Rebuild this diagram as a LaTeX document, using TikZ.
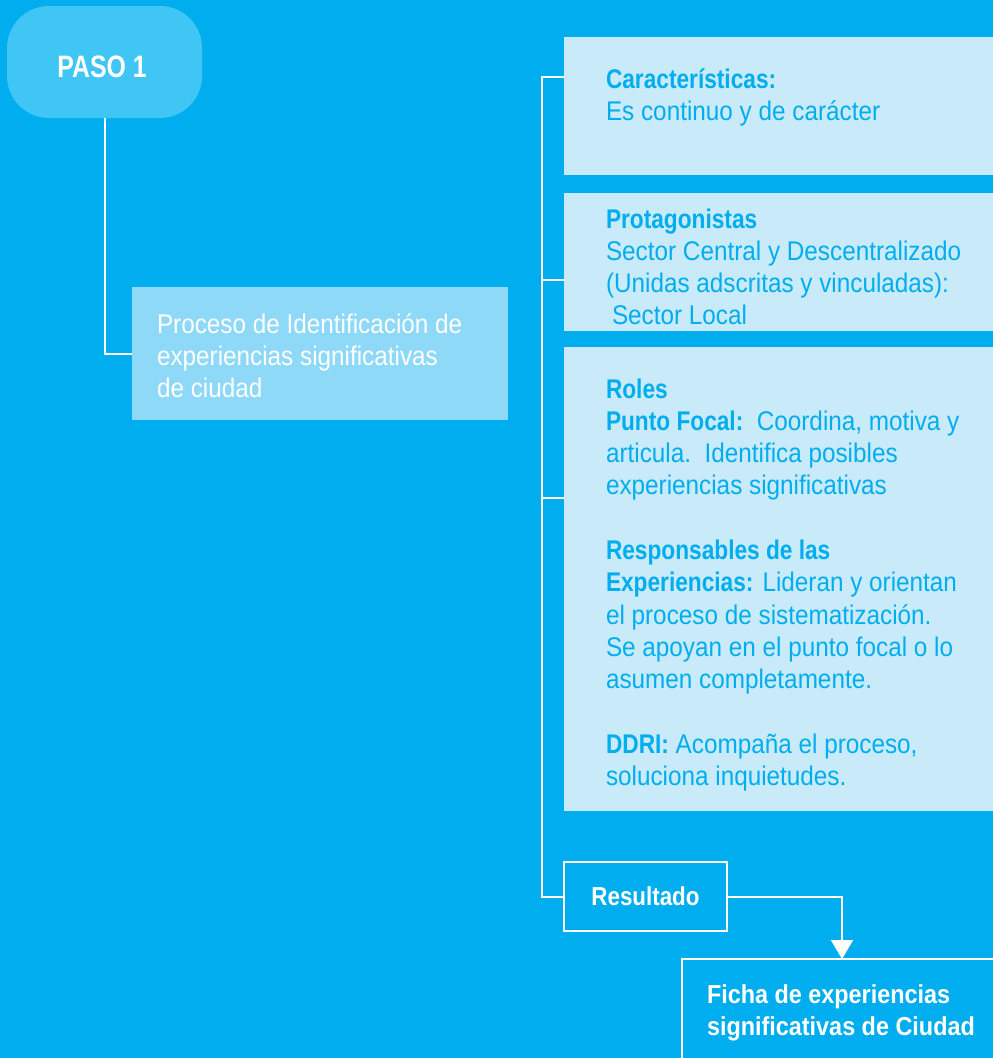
\documentclass[tikz,border=0pt]{standalone}
\usepackage{fontspec}
\setmainfont{Liberation Sans}[FakeStretch=0.9, BoldFeatures={FakeStretch=0.84}]
\newfontfamily\pasofont{Liberation Sans Bold}[FakeStretch=0.8]
\newfontfamily\resfont{Liberation Sans Bold}[FakeStretch=0.86]
\newfontfamily\fichafont{Liberation Sans Bold}[FakeStretch=0.9]
\usetikzlibrary{arrows.meta}
\definecolor{bg}{HTML}{00AEEF}
\definecolor{pasofill}{HTML}{40C6F4}
\definecolor{procfill}{HTML}{8ED8F8}
\definecolor{boxfill}{HTML}{C8EAF9}
\begin{document}
\begin{tikzpicture}[x=1pt,y=-1pt,
  shapebox/.style={anchor=north west, inner sep=0pt, outer sep=0pt, draw=none},
  panel/.style={shapebox, fill=boxfill},
  outlined/.style={shapebox, draw=white, line width=2pt},
  txt/.style={anchor=north west, inner sep=0pt, outer sep=0pt, align=left, font=\fontsize{27}{32.3}\selectfont},
  paneltxt/.style={txt, text=bg},
  conn/.style={draw=white, line width=2pt}
]
\useasboundingbox (0,0) rectangle (993,1058);
\fill[bg] (0,0) rectangle (993,1058);
\begin{scope}
\clip (0,0) rectangle (993,1058);
% PASO 1
\node[shapebox, fill=pasofill, rounded corners=42pt, minimum width=195pt, minimum height=112pt] (paso) at (7,6) {};
\node[anchor=base, inner sep=0pt, text=white, font=\fontsize{31}{36}\pasofont] (pasolbl) at (102,77) {PASO 1};
% process box
\node[shapebox, fill=procfill, minimum width=376pt, minimum height=133pt] (proc) at (132,287) {};
\node[txt, text=white] (proctxt) at (157,308) {\rule{0pt}{25pt}Proceso de Identificación de\\experiencias significativas\\de ciudad};
% right panels
\node[panel, minimum width=440pt, minimum height=138pt] (b1) at (564,37) {};
\node[panel, minimum width=440pt, minimum height=138pt] (b2) at (564,193) {};
\node[panel, minimum width=440pt, minimum height=464pt] (b3) at (564,347) {};
\node[paneltxt] (b1txt) at (606,63) {\rule{0pt}{25pt}\textbf{Características:}\\Es continuo y de carácter};
\node[paneltxt] (b2txt) at (606,203) {\rule{0pt}{25pt}\textbf{Protagonistas}\\Sector Central y Descentralizado\\(Unidas adscritas y vinculadas):\\\hspace*{6pt}Sector Local};
\node[paneltxt] (b3txt) at (606,373) {\rule{0pt}{25pt}\textbf{Roles}\\\textbf{Punto Focal:}\ \ Coordina, motiva y\\articula.\ \ Identifica posibles\\experiencias significativas\\[32.3pt]\textbf{Responsables de las}\\\textbf{Experiencias:} Lideran y orientan\\el proceso de sistematización.\\Se apoyan en el punto focal o lo\\asumen completamente.\\[32.3pt]\textbf{DDRI:} Acompaña el proceso,\\soluciona inquietudes.};
% result and output
\node[outlined, minimum width=163pt, minimum height=69pt, text=white, font=\fontsize{26}{30}\resfont] (res) at (564,862) {Resultado};
\node[outlined, minimum width=330pt, minimum height=130pt] (ficha) at (682,959) {};
\node[txt, text=white, font=\fontsize{26}{32}\fichafont] (fichatxt) at (707,978) {\rule{0pt}{25pt}Ficha de experiencias\\significativas de Ciudad};
% connectors
\draw[conn] (paso.south) |- (proc.west);
\coordinate (t1) at ([yshift=-40pt]b1.north west);
\coordinate (t2) at ([yshift=-87pt]b2.north west);
\coordinate (t3) at ([yshift=-151pt]b3.north west);
\coordinate (top) at ([xshift=-22pt]t1);
\draw[conn] (t1) -- (top) |- (res.west);
\draw[conn] (top |- t2) -- (t2);
\draw[conn] (top |- t3) -- (t3);
\coordinate (fin) at ([xshift=160pt]ficha.north west);
\draw[conn, -{Triangle[width=22pt,length=19pt]}] (res.east) -| (fin);
\end{scope}
\end{tikzpicture}
\end{document}
